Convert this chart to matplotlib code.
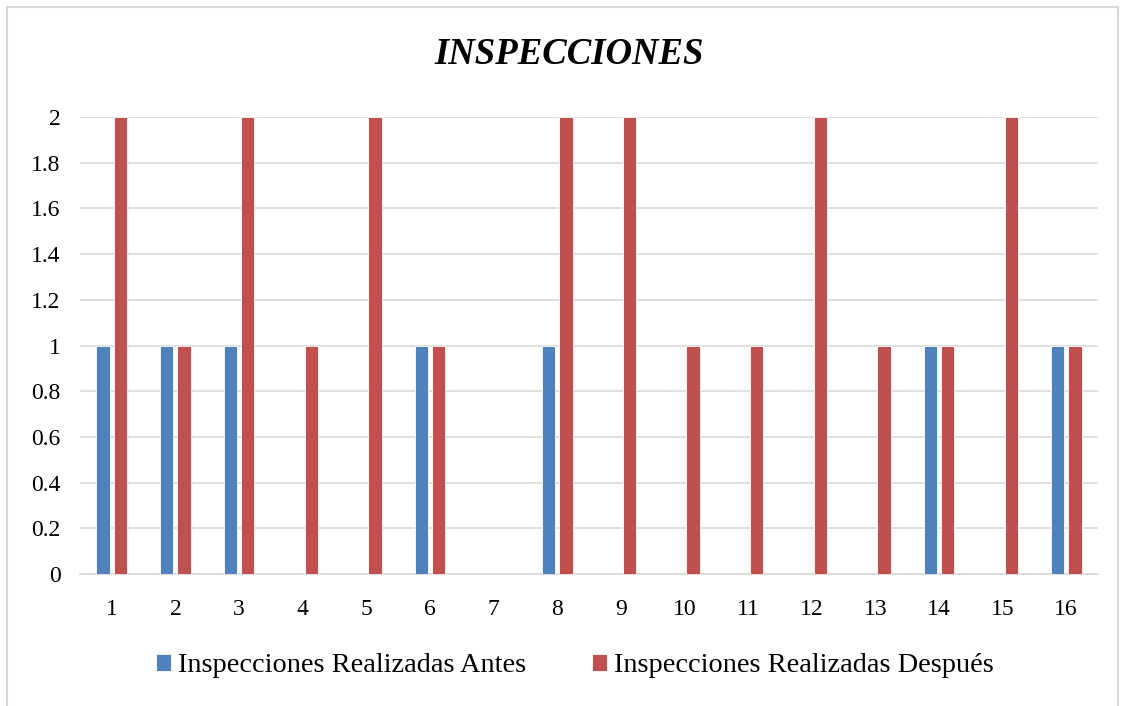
import matplotlib.pyplot as plt
import matplotlib.patches as mpatches
import numpy as np

# datos
categorias = ['1', '2', '3', '4', '5', '6', '7', '8', '9', '10', '11', '12', '13', '14', '15', '16']
antes = [1, 1, 1, 0, 0, 1, 0, 1, 0, 0, 0, 0, 0, 1, 0, 1]
despues = [2, 1, 2, 1, 2, 1, 0, 2, 2, 1, 1, 2, 1, 1, 2, 1]
yticks = [0, 0.2, 0.4, 0.6, 0.8, 1, 1.2, 1.4, 1.6, 1.8, 2]
ytick_labels = ['0', '0.2', '0.4', '0.6', '0.8', '1', '1.2', '1.4', '1.6', '1.8', '2']

azul = '#4F81BD'
rojo = '#C0504D'

plt.rcParams['font.family'] = ['Liberation Serif', 'DejaVu Serif']

W, H = 1126, 706
fig = plt.figure(figsize=(W / 100, H / 100), dpi=100)
ax = fig.add_axes([80 / W, 1 - 574 / H, (1098 - 80) / W, (574 - 117) / H])

x = np.arange(len(categorias))
ancho = 0.21
ax.bar(x - 0.137, antes, ancho, color=azul, edgecolor='white', linewidth=0.6,
       label='Inspecciones Realizadas Antes', zorder=3)
ax.bar(x + 0.137, despues, ancho, color=rojo, edgecolor='white', linewidth=0.6,
       label='Inspecciones Realizadas Después', zorder=3)

ax.set_xlim(-0.5, len(categorias) - 0.5)
ax.set_ylim(0, 2)
ax.set_xticks(x)
ax.set_xticklabels(categorias, fontsize=17)
ax.set_yticks(yticks)
ax.set_yticklabels(ytick_labels, fontsize=17)
ax.tick_params(axis='x', length=0, pad=18)
ax.tick_params(axis='y', length=0, pad=14)
ax.yaxis.grid(True, color='#D9D9D9', linewidth=1.2, zorder=0)
for s in ['top', 'right', 'left']:
    ax.spines[s].set_visible(False)
ax.spines['bottom'].set_color('#D9D9D9')
ax.spines['bottom'].set_linewidth(1.2)
ax.set_axisbelow(True)

fig.text(569 / W, 1 - 55 / H, 'INSPECCIONES', ha='center', va='center',
         fontsize=26.5, fontweight='bold', fontstyle='italic')

fig.legend(loc='center', bbox_to_anchor=(575 / W, 1 - 666 / H), ncol=2, frameon=False,
           fontsize=20.4, handlelength=0.55, handleheight=0.55, handletextpad=0.25,
           columnspacing=2.3)

# marco del grafico
marco = mpatches.Rectangle((7 / W, -0.01), (1118 - 7) / W, (H - 7) / H + 0.01,
                           transform=fig.transFigure, fill=False,
                           edgecolor='#D9D9D9', linewidth=1.5)
fig.patches.append(marco)

fig.savefig('out.png', dpi=100)
